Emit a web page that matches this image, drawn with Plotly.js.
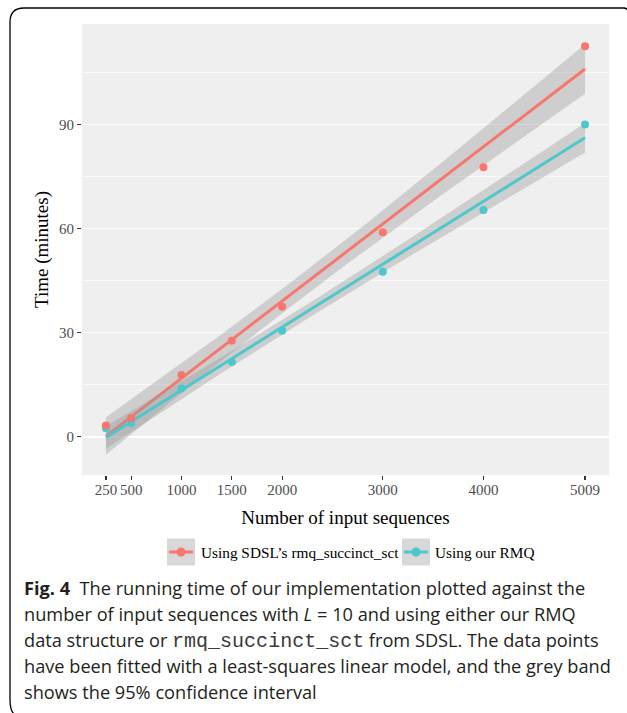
<!DOCTYPE html>
<html><head><meta charset="utf-8">
<script src="https://cdn.plot.ly/plotly-3.0.1.min.js"></script>
<style>html,body{margin:0;padding:0;background:#fff;overflow:hidden}#chart{width:627px;height:713px}</style>
</head><body><div id="chart"></div>
<script>
// ---- data ----
const sequences = [250, 500, 1000, 1500, 2000, 3000, 4000, 5009];
const timeSDSL = [3.3, 5.4, 17.8, 27.7, 37.5, 59.0, 77.7, 112.6];
const timeOurRMQ = [2.5, 4.0, 13.9, 21.6, 30.6, 47.6, 65.4, 90.0];
const xTickVals = [250, 500, 1000, 1500, 2000, 3000, 4000, 5009];
const yTickVals = [0, 30, 60, 90];
const yMinorTickVals = [15, 45, 75, 105];
const seriesNames = ["Using SDSL’s rmq_succinct_sct", "Using our RMQ"];
const xTitle = "Number of input sequences";
const yTitle = "Time (minutes)";
const captionLines = [
  "<b>Fig. 4</b>  The running time of our implementation plotted against the",
  "number of input sequences with <i>L</i> = 10 and using either our RMQ",
  "data structure or <span style=\"font-family:'Liberation Mono';font-size:20px;color:#3a3a3a\">rmq_succinct_sct</span> from SDSL. The data points",
  "have been fitted with a least-squares linear model, and the grey band",
  "shows the 95% confidence interval"
];
const T975_DF6 = 2.446912; // Student t quantile, 6 degrees of freedom

// ---- least-squares fit + 95% CI (as geom_smooth(method = lm)) ----
function fitLM(x, y, nGrid) {
  const n = x.length;
  const mx = x.reduce((a, b) => a + b, 0) / n;
  const my = y.reduce((a, b) => a + b, 0) / n;
  let sxx = 0, sxy = 0;
  for (let i = 0; i < n; i++) { sxx += (x[i] - mx) ** 2; sxy += (x[i] - mx) * (y[i] - my); }
  const b = sxy / sxx, a = my - b * mx;
  let sse = 0;
  for (let i = 0; i < n; i++) sse += (y[i] - a - b * x[i]) ** 2;
  const s = Math.sqrt(sse / (n - 2));
  const xmin = Math.min(...x), xmax = Math.max(...x);
  const gx = [], fit = [], lo = [], hi = [];
  for (let k = 0; k < nGrid; k++) {
    const xv = xmin + (xmax - xmin) * k / (nGrid - 1);
    const f = a + b * xv;
    const se = s * Math.sqrt(1 / n + (xv - mx) ** 2 / sxx);
    gx.push(xv); fit.push(f); lo.push(f - T975_DF6 * se); hi.push(f + T975_DF6 * se);
  }
  return { gx, fit, lo, hi };
}

const RED = '#F8766D', TEAL = '#4CC8CC';
const RIBBON = 'rgba(153,153,153,0.38)';
const SERIF = 'Liberation Serif';

const fR = fitLM(sequences, timeSDSL, 80);
const fT = fitLM(sequences, timeOurRMQ, 80);

function ribbon(f) {
  return {
    x: f.gx.concat(f.gx.slice().reverse()),
    y: f.hi.concat(f.lo.slice().reverse()),
    type: 'scatter', mode: 'lines', fill: 'toself', fillcolor: RIBBON,
    line: { width: 0, color: 'rgba(0,0,0,0)' }, hoverinfo: 'skip', showlegend: false
  };
}
function fitLine(f, c, name) {
  return { x: f.gx, y: f.fit, type: 'scatter', mode: 'lines', name: name,
    line: { color: c, width: 3 }, showlegend: false };
}
function pts(y, c, name) {
  return { x: sequences, y: y, type: 'scatter', mode: 'markers', name: name,
    marker: { color: c, size: 8 }, showlegend: false };
}

const data = [
  ribbon(fR), fitLine(fR, RED, seriesNames[0]),
  ribbon(fT), fitLine(fT, TEAL, seriesNames[1]),
  pts(timeOurRMQ, TEAL, seriesNames[1]),
  pts(timeSDSL, RED, seriesNames[0])
];

// pixel -> paper helpers for decorations
const PL = 82, PR = 609, PT = 24, PB = 475;
const X = p => (p - PL) / (PR - PL);
const Y = p => (PB - p) / (PB - PT);

const shapes = [];
// card border
shapes.push({ type: 'path', xref: 'paper', yref: 'paper', layer: 'above',
  path: `M ${X(14)},${Y(714)} Q ${X(10)},${Y(710)} ${X(10)},${Y(700)} L ${X(10)},${Y(22)} Q ${X(10)},${Y(8)} ${X(24)},${Y(8)} L ${X(624)},${Y(8)} Q ${X(627)},${Y(8)} ${X(628)},${Y(11)}`,
  line: { color: '#000', width: 1.3 } });

// manual legend keys
const legendItems = [
  { key: 167, text: 199, color: RED, name: seriesNames[0] },
  { key: 402, text: 433, color: TEAL, name: seriesNames[1] }
];
const LY = 552, KW = 28, KH = 27;
const annotations = [];
legendItems.forEach(it => {
  shapes.push({ type: 'rect', xref: 'paper', yref: 'paper', x0: X(it.key), x1: X(it.key + KW),
    y0: Y(LY + KH / 2), y1: Y(LY - KH / 2), fillcolor: RIBBON, line: { width: 0 } });
  shapes.push({ type: 'line', xref: 'paper', yref: 'paper', x0: X(it.key + 2), x1: X(it.key + KW - 2),
    y0: Y(LY), y1: Y(LY), line: { color: it.color, width: 3 } });
  shapes.push({ type: 'circle', xref: 'paper', yref: 'paper', x0: X(it.key + KW / 2 - 4.5), x1: X(it.key + KW / 2 + 4.5),
    y0: Y(LY - 4.5), y1: Y(LY + 4.5), fillcolor: it.color, line: { width: 0 } });
  annotations.push({ xref: 'paper', yref: 'paper', x: X(it.text), y: Y(LY), xanchor: 'left', yanchor: 'middle',
    text: it.name, showarrow: false, font: { family: SERIF, size: 15.3, color: '#000' } });
});

// caption
const capY = [588, 614, 640, 666, 692];
captionLines.forEach((t, i) => {
  annotations.push({ xref: 'paper', yref: 'paper', x: X(22), y: Y(capY[i]), xanchor: 'left', yanchor: 'middle',
    text: t, showarrow: false, align: 'left', font: { family: 'Open Sans', size: 18.2, color: '#231F20' } });
});

const layout = {
  width: 627, height: 713, autosize: false,
  margin: { l: PL, r: 627 - PR, t: PT, b: 713 - PB, pad: 0 },
  paper_bgcolor: '#ffffff', plot_bgcolor: '#EFEFEF',
  showlegend: false,
  font: { family: SERIF, size: 15, color: '#4D4D4D' },
  xaxis: {
    range: [12, 5247], tickmode: 'array', tickvals: xTickVals, ticktext: xTickVals.map(String),
    showgrid: false, zeroline: false, showline: false,
    ticks: 'outside', ticklen: 4, tickwidth: 1.2, tickcolor: '#333333', ticklabelstandoff: -3,
    tickfont: { family: SERIF, size: 15, color: '#4D4D4D' },
    title: { text: xTitle, font: { family: SERIF, size: 19, color: '#000' }, standoff: 13 }
  },
  yaxis: {
    range: [-11, 119], tickmode: 'array', tickvals: yTickVals, ticktext: yTickVals.map(String),
    showgrid: true, gridcolor: '#ffffff', gridwidth: 1.4, zeroline: false, showline: false,
    ticks: 'outside', ticklen: 4, tickwidth: 1.2, tickcolor: '#333333',
    tickfont: { family: SERIF, size: 15, color: '#4D4D4D' },
    minor: { tickmode: 'array', tickvals: yMinorTickVals, showgrid: true, gridcolor: '#ffffff', gridwidth: 0.7, ticks: '' },
    title: { text: yTitle, font: { family: SERIF, size: 19, color: '#000' }, standoff: 5 }
  },
  shapes: shapes,
  annotations: annotations
};

Plotly.newPlot('chart', data, layout, { staticPlot: true, displayModeBar: false });
</script></body></html>
